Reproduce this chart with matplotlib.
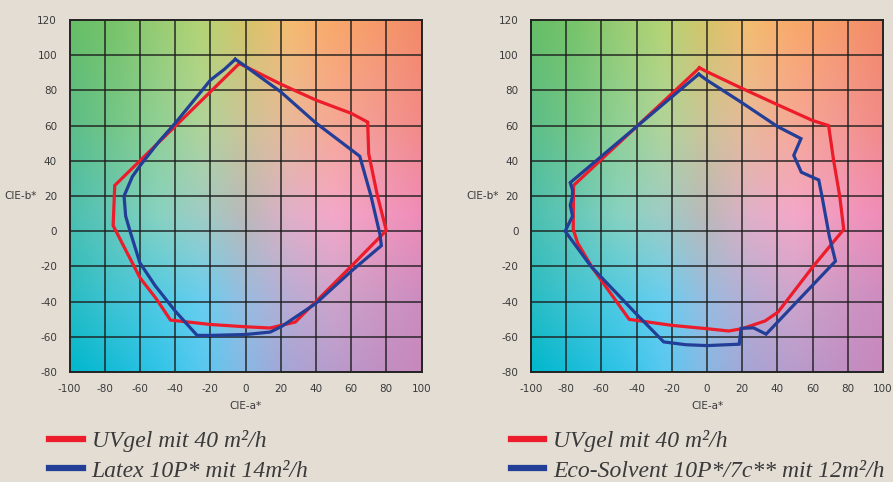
import numpy as np
import matplotlib
matplotlib.use("Agg")
import matplotlib.pyplot as plt
from matplotlib.colors import to_rgb

plt.rcParams["axes.unicode_minus"] = False

# gamut outlines (CIE a*, b*)
uvgel_l_a = [-3.5, 20, 40, 60, 69.4, 70, 75, 80, 60, 40, 28.3, 14, 0, -20, -42.6, -51, -60, -64.3, -70, -75.2, -74.3]
uvgel_l_b = [95.3, 83.6, 74.5, 67, 62, 44, 20, 0.4, -20, -40, -51.6, -55, -54.3, -53, -50.5, -38, -26.4, -18, -7, 3.2, 26]

latex_a = [-5.8, 0, 20, 40, 54.5, 64.9, 71.3, 76.4, 77.2, 60, 40, 20.7, 14.1, 0, -20, -27.5, -40, -51.3,
           -60, -65.3, -68.1, -69, -64.3, -60, -49.2, -40, -24.7, -20, -12]
latex_b = [97.7, 93.7, 79.2, 61.5, 50.5, 42.6, 20, -1.9, -8.2, -22.8, -41, -54, -57.3, -58.7, -59.2, -59.2, -45.3, -31,
           -18, -1, 8.6, 20, 31, 37.1, 50.9, 61.3, 80, 85.8, 92]

uvgel_r_a = [-4.3, 0, 20, 40, 60, 69.1, 71.9, 75.4, 77.7, 60, 40.4, 33, 19.9, 12.3, 0, -20, -44.2, -55, -65, -73.5, -76, -75.8]
uvgel_r_b = [92.8, 90.6, 81.1, 71.9, 62.9, 60, 40.5, 20, 1, -20.4, -45.9, -51, -55.4, -56.7, -55.4, -53.5, -50.1, -35, -21, -6.7, 1, 26]

eco_a = [-4.7, 0, 20, 40, 53.4, 49.3, 53.6, 63.5, 65.3, 69.5, 73, 33.6, 26.4, 19.4, 18.3, 0, -12, -24.6, -40,
         -65.9, -80.6, -76.4, -77.7, -76.4, -76.4, -77.7]
eco_b = [89.2, 85.8, 72.9, 59.5, 52.6, 43.1, 33.5, 29.1, 20, -2.9, -17, -58.5, -54.9, -55.2, -64.2, -65, -64.5, -62.9, -47.2,
         -20, 0, 8.6, 14.7, 20, 23.4, 27.6]

ticks_a = list(range(-100, 101, 20))
ticks_b = list(range(-80, 121, 20))

RED = "#ec1c2a"
BLUE = "#233e96"
TXT = "#3a3a3a"
BG = "#e3ddd4"

# background colour field, rows at b = 120, 60, 10, -40, -80 ; cols at a = -100..100 step 25
bg_b = [120, 60, 10, -40, -80]
bg_rows = [
    ["#66be66", "#78c46a", "#98cc72", "#b4d474", "#d4c46a", "#f4bc70", "#f9a86a", "#f69a6a", "#f28a68"],
    ["#5cbe88", "#74c688", "#90d094", "#b0d49a", "#ccc498", "#eab89a", "#f6a896", "#f49a94", "#f28a88"],
    ["#4cc0b0", "#68c8b8", "#88d2c0", "#a0ccc4", "#bcb8b8", "#e0b0c8", "#f4a8c8", "#f29ac0", "#f08cb8"],
    ["#28bcc4", "#40c4d4", "#50cae4", "#68cef0", "#98bce0", "#b8acd4", "#cca4cc", "#cc98c4", "#cc8cc0"],
    ["#00b8cc", "#18bcd8", "#30c4e8", "#58c8f0", "#88b8e4", "#a8a4d4", "#b89ccc", "#c090c4", "#c888bc"],
]


def colour_field(nx=200, ny=200):
    node_a = np.linspace(-100, 100, 9)
    node_b = np.array(bg_b)[::-1]
    cols = np.array([[to_rgb(c) for c in row] for row in bg_rows])[::-1]
    aa = np.linspace(-100, 100, nx)
    bb = np.linspace(120, -80, ny)
    img = np.zeros((ny, nx, 3))
    for ch in range(3):
        tmp = np.array([np.interp(aa, node_a, cols[r, :, ch]) for r in range(len(bg_b))])
        for i in range(nx):
            img[:, i, ch] = np.interp(bb, node_b, tmp[:, i])
    return img


def panel(ax, series):
    ax.imshow(colour_field(), extent=(-100, 100, -80, 120), aspect="auto", zorder=0)
    for x in ticks_a[1:-1]:
        ax.axvline(x, color="#1c1c1c", lw=1.2, alpha=0.85, zorder=1)
    for y in ticks_b[1:-1]:
        ax.axhline(y, color="#1c1c1c", lw=1.2, alpha=0.85, zorder=1)
    lines = []
    for a, b, col, lab in series:
        ln, = ax.plot(a + a[:1], b + b[:1], color=col, lw=2.3, label=lab, zorder=3,
                      solid_joinstyle="miter")
        lines.append(ln)
    ax.set_xlim(-100, 100)
    ax.set_ylim(-80, 120)
    ax.set_xticks(ticks_a)
    ax.set_yticks(ticks_b)
    ax.tick_params(length=0, labelsize=7.5, labelcolor=TXT, pad=9)
    for s in ax.spines.values():
        s.set_color("#222222")
        s.set_linewidth(1.4)
    ax.set_xlabel("CIE-a*", fontsize=7.5, color=TXT, labelpad=5)
    ax.set_ylabel("CIE-b*", fontsize=7.5, color=TXT, rotation=0, ha="right", va="center")
    ax.yaxis.set_label_coords(-0.092, 0.5)
    leg = ax.legend(handles=lines, loc="upper left", bbox_to_anchor=(-0.058, -0.165),
                    frameon=False, borderpad=0, borderaxespad=0, handlelength=1.42, handletextpad=0.38,
                    labelspacing=0.34, prop={"family": "Liberation Serif", "style": "italic", "size": 17})
    for t in leg.get_texts():
        t.set_color(TXT)
    for l in leg.get_lines():
        l.set_linewidth(4.5)


fig = plt.figure(figsize=(8.93, 4.82), dpi=100, facecolor=BG)
ax1 = fig.add_axes([69.5 / 893, 110 / 482, 352 / 893, 352 / 482])
ax2 = fig.add_axes([531 / 893, 110 / 482, 352 / 893, 352 / 482])

panel(ax1, [(uvgel_l_a, uvgel_l_b, RED, "UVgel mit 40 m²/h"),
            (latex_a, latex_b, BLUE, "Latex 10P* mit 14m²/h")])
panel(ax2, [(uvgel_r_a, uvgel_r_b, RED, "UVgel mit 40 m²/h"),
            (eco_a, eco_b, BLUE, "Eco-Solvent 10P*/7c** mit 12m²/h")])

fig.savefig("out.png", dpi=100, facecolor=BG)
